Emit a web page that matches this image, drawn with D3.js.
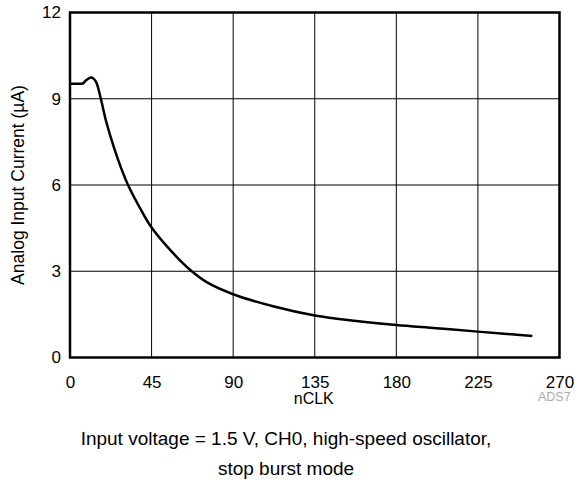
<!DOCTYPE html>
<html><head><meta charset="utf-8">
<script src="https://cdn.jsdelivr.net/npm/d3@7"></script>
<style>body{margin:0;background:#fff;} svg{display:block;}</style>
</head><body>
<script>
const nclk    = [0, 4, 7, 9, 11.5, 13, 14.7, 17, 20, 24, 28, 32, 38.6, 45, 57, 66.2, 75.4, 90, 112, 135, 158, 180, 202, 225, 255];
const current = [9.52, 9.52, 9.53, 9.65, 9.74, 9.7, 9.54, 9.0, 8.2, 7.35, 6.62, 6.0, 5.2, 4.52, 3.62, 3.05, 2.62, 2.2, 1.78, 1.46, 1.27, 1.13, 1.02, 0.9, 0.75];
const xTicks = [0, 45, 90, 135, 180, 225, 270];
const yTicks = [0, 3, 6, 9, 12];
const xLabel = "nCLK";
const yLabel = "Analog Input Current (\u00B5A)";
const caption = ["Input voltage = 1.5 V, CH0, high-speed oscillator,", "stop burst mode"];
const watermark = "ADS7";

const W = 587, H = 485;
const FONT = "Arial, 'Liberation Sans', sans-serif";
const svg = d3.select("body").append("svg").attr("width", W).attr("height", H)
  .style("font-family", FONT);
const L = 70, R = 559.5, T = 12.5, B = 357.5;
const x = d3.scaleLinear().domain([0, 270]).range([L, R]);
const y = d3.scaleLinear().domain([0, 12]).range([B, T]);

// grid
svg.append("g").selectAll("line").data(xTicks).join("line")
  .attr("x1", d => x(d)).attr("x2", d => x(d)).attr("y1", T).attr("y2", B)
  .attr("stroke", "#000").attr("stroke-width", 1);
svg.append("g").selectAll("line").data(yTicks).join("line")
  .attr("x1", L).attr("x2", R).attr("y1", d => y(d)).attr("y2", d => y(d))
  .attr("stroke", "#000").attr("stroke-width", 1);

// axes (labels only)
const xAxis = d3.axisBottom(x).tickValues(xTicks).tickSize(0).tickPadding(0).tickFormat(d3.format("d"));
const gx = svg.append("g").attr("transform", `translate(0,${B})`).call(xAxis);
gx.select(".domain").remove();
gx.selectAll("text").attr("font-size", 17).attr("fill", "#000").attr("font-family", FONT)
  .attr("dy", null).attr("y", 30);

const yAxis = d3.axisLeft(y).tickValues(yTicks).tickSize(0).tickPadding(9).tickFormat(d3.format("d"));
const gy = svg.append("g").attr("transform", `translate(${L},0)`).call(yAxis);
gy.select(".domain").remove();
gy.selectAll("text").attr("font-size", 17).attr("fill", "#000").attr("font-family", FONT);

// border
svg.append("rect").attr("x", L).attr("y", T).attr("width", R - L).attr("height", B - T)
  .attr("fill", "none").attr("stroke", "#000").attr("stroke-width", 2.5);

// curve
const pts = nclk.map((d, i) => [d, current[i]]);
svg.append("path").datum(pts)
  .attr("fill", "none").attr("stroke", "#000").attr("stroke-width", 2.5)
  .attr("d", d3.line().x(d => x(d[0])).y(d => y(d[1])).curve(d3.curveCatmullRom.alpha(0.5)));

// labels
svg.append("text").attr("x", (L + R) / 2 - 1).attr("y", 404).attr("text-anchor", "middle")
  .attr("font-size", 16).text(xLabel);
svg.append("text").attr("transform", `translate(24,${(T + B) / 2}) rotate(-90)`)
  .attr("text-anchor", "middle").attr("font-size", 17.5).text(yLabel);
svg.append("text").attr("x", 538).attr("y", 401).attr("font-size", 12.5).attr("fill", "#aaa").text(watermark);
caption.forEach((c, i) => {
  svg.append("text").attr("x", 286).attr("y", 445 + i * 30).attr("text-anchor", "middle")
    .attr("font-size", 19).text(c);
});
</script>
</body></html>
